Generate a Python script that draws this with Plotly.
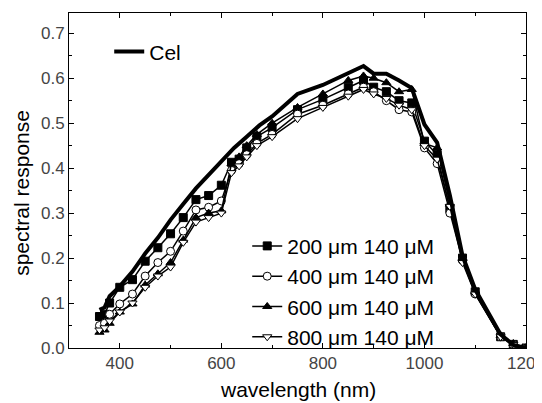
import plotly.graph_objects as go

wl = [360, 370, 380, 400, 425, 450, 475, 500, 525, 550, 575, 600, 620, 635, 650, 670, 700,
      750, 800, 850, 880, 900, 925, 950, 975, 1000, 1025, 1050, 1075, 1100, 1150, 1175, 1200]

cel_wl = [360, 370, 380, 400, 425, 450, 475, 500, 525, 550, 575, 600, 625, 650, 675, 700,
          750, 800, 850, 880, 900, 925, 950, 975, 1000, 1025, 1050, 1075, 1100, 1125, 1150, 1175, 1200]
cel = [0.085, 0.09, 0.115, 0.137, 0.17, 0.21, 0.245, 0.285, 0.32, 0.355, 0.385, 0.415, 0.445,
       0.47, 0.495, 0.515, 0.565, 0.585, 0.61, 0.627, 0.61, 0.61, 0.595, 0.578, 0.497, 0.457,
       0.34, 0.205, 0.13, 0.08, 0.03, 0.007, 0.0]

s200 = [0.07, 0.075, 0.10, 0.135, 0.152, 0.193, 0.223, 0.254, 0.29, 0.33, 0.339, 0.362, 0.413,
        0.42, 0.445, 0.47, 0.49, 0.53, 0.553, 0.58, 0.595, 0.58, 0.57, 0.55, 0.545, 0.46, 0.43,
        0.31, 0.2, 0.125, 0.025, 0.008, 0.0]
s400 = [0.05, 0.055, 0.075, 0.098, 0.12, 0.16, 0.19, 0.215, 0.26, 0.307, 0.313, 0.327, 0.395,
        0.41, 0.43, 0.455, 0.475, 0.52, 0.54, 0.565, 0.58, 0.57, 0.55, 0.53, 0.525, 0.445, 0.41,
        0.30, 0.195, 0.12, 0.025, 0.008, 0.0]
s600 = [0.035, 0.04, 0.055, 0.08, 0.098, 0.14, 0.165, 0.19, 0.24, 0.29, 0.30, 0.305, 0.41,
        0.425, 0.45, 0.475, 0.50, 0.535, 0.565, 0.595, 0.605, 0.60, 0.59, 0.57, 0.575, 0.455, 0.445,
        0.32, 0.2, 0.125, 0.028, 0.01, 0.0]
s800 = [0.04, 0.045, 0.06, 0.08, 0.10, 0.135, 0.16, 0.18, 0.235, 0.28, 0.29, 0.30, 0.39,
        0.405, 0.425, 0.45, 0.47, 0.51, 0.535, 0.56, 0.575, 0.565, 0.555, 0.54, 0.53, 0.45, 0.42,
        0.315, 0.19, 0.12, 0.025, 0.008, 0.0]

series = [
    ("200 μm 140 μM", s200, "square", "black"),
    ("400 μm 140 μM", s400, "circle", "white"),
    ("600 μm 140 μM", s600, "triangle-up", "black"),
    ("800 μm 140 μM", s800, "triangle-down", "white"),
]

fig = go.Figure()
for name, vals, sym, fill in series:
    fig.add_trace(go.Scatter(
        x=wl, y=vals, name=name, mode="lines+markers", legend="legend2",
        line=dict(color="black", width=1.5),
        marker=dict(symbol=sym, size=8, color=fill, line=dict(color="black", width=1)),
    ))

fig.add_trace(go.Scatter(
    x=cel_wl, y=cel, name="Cel", mode="lines", legend="legend",
    line=dict(color="black", width=4),
))

axis_common = dict(
    showgrid=False, zeroline=False, showline=True, linecolor="black", linewidth=1,
    mirror="ticks", ticks="inside", ticklen=5, tickcolor="black",
    ticklabeloverflow="allow", automargin=False,
    tickfont=dict(family="Liberation Sans, Arial", size=17, color="#444"),
)

fig.update_xaxes(range=[300, 1200], tickvals=[400, 600, 800, 1000, 1200],
                 minor=dict(ticks="inside", ticklen=3, dtick=100, tick0=300, tickcolor="black"),
                 **axis_common)
fig.update_yaxes(range=[0, 0.745], tickvals=[0, 0.1, 0.2, 0.3, 0.4, 0.5, 0.6, 0.7],
                 tickformat=".1f",
                 minor=dict(ticks="inside", ticklen=3, dtick=0.05, tick0=0, tickcolor="black"),
                 **axis_common)

# the page body adds an 8px offset, so the figure is sized to compensate
fig.update_layout(
    width=534, height=395,
    margin=dict(l=61, r=16, t=5, b=55, autoexpand=False),
    paper_bgcolor="white", plot_bgcolor="white",
    font=dict(family="Liberation Sans, Arial", color="black"),
    showlegend=True,
    legend=dict(x=0.088, y=0.945, xanchor="left", yanchor="top",
                bgcolor="rgba(0,0,0,0)", font=dict(size=21)),
    legend2=dict(x=0.39, y=0.365, xanchor="left", yanchor="top",
                 bgcolor="rgba(0,0,0,0)", font=dict(size=21), tracegroupgap=0),
    annotations=[
        dict(text="spectral response", xref="paper", yref="paper", x=-0.103, y=0.463,
             textangle=-90, showarrow=False, font=dict(size=21, color="black"),
             xanchor="center", yanchor="middle"),
        dict(text="wavelength (nm)", xref="paper", yref="paper", x=0.5, y=-0.124,
             showarrow=False, font=dict(size=21, color="black"),
             xanchor="center", yanchor="middle"),
    ],
)

fig.write_html("out.html")
